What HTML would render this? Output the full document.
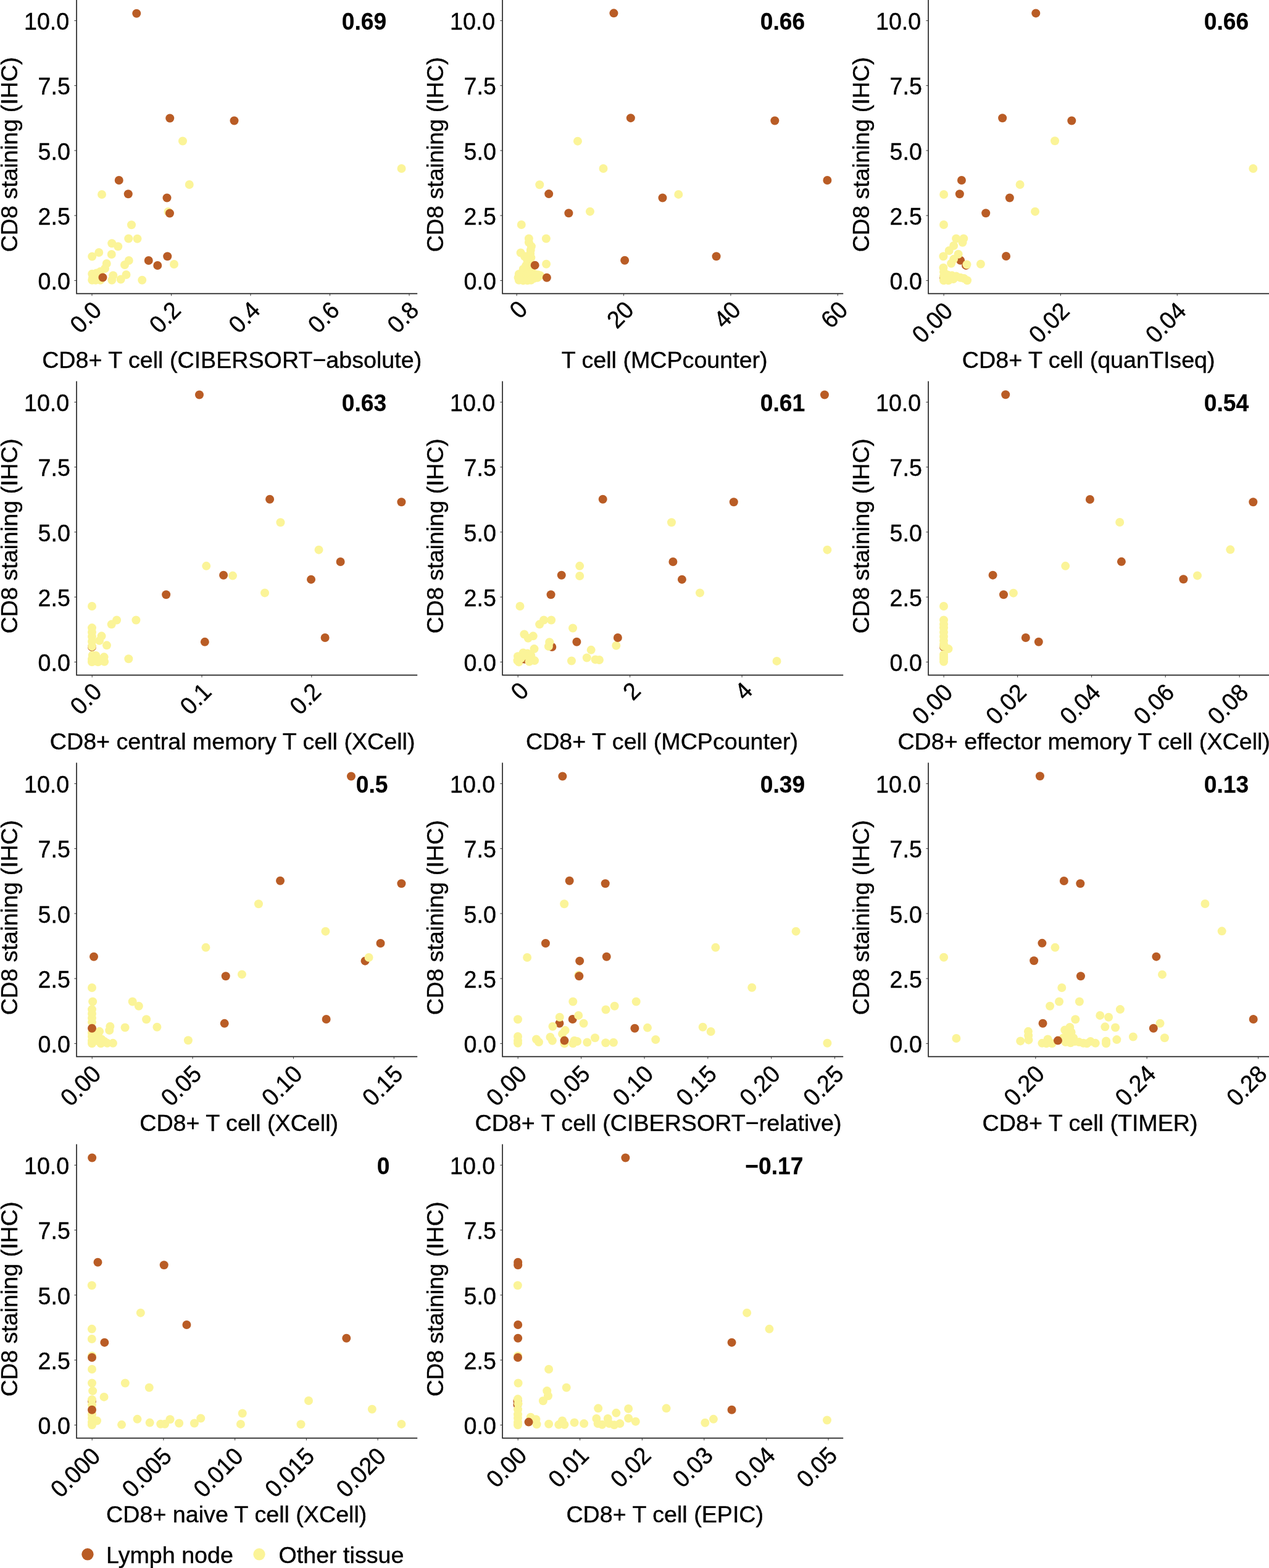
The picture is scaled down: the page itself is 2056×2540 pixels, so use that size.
<!DOCTYPE html>
<html lang="en"><head><meta charset="utf-8"><title>CD8 staining vs deconvolution estimates</title>
<style>html,body{margin:0;padding:0;background:#fff}body{width:2056px;height:2540px;overflow:hidden}svg{display:block}text{font-family:"Liberation Sans",Arial,Helvetica,sans-serif;fill:#000;stroke:#000;stroke-width:0.4px}.t{font-size:37.65px}.k{font-size:37.6px}.b{font-size:37.2px;font-weight:bold;stroke-width:0.25px}.ax{stroke:#222;stroke-width:1.65;fill:none}.tk{stroke:#333;stroke-width:1;fill:none}.br{fill:#b95c25}.ye{fill:#fbf498}</style></head><body>
<svg width="2056" height="2540" viewBox="0 0 2056 2540" role="img" aria-label="CD8 staining (IHC) versus deconvolution estimates">
<rect width="2056" height="2540" fill="#fff"/>
<g><circle class="ye" cx="296" cy="228.5" r="7"/><circle class="ye" cx="650.5" cy="273" r="7"/><circle class="ye" cx="306.75" cy="299" r="7"/><circle class="ye" cx="165" cy="315" r="7"/><circle class="ye" cx="272.5" cy="343" r="7"/><circle class="ye" cx="213" cy="364.25" r="7"/><circle class="ye" cx="208.25" cy="386.5" r="7"/><circle class="ye" cx="222.5" cy="386.75" r="7"/><circle class="ye" cx="181.25" cy="394.25" r="7"/><circle class="ye" cx="191.25" cy="399.25" r="7"/><circle class="ye" cx="160.25" cy="409" r="7"/><circle class="ye" cx="149.25" cy="415.5" r="7"/><circle class="ye" cx="180.75" cy="412" r="7"/><circle class="ye" cx="208.75" cy="422" r="7"/><circle class="ye" cx="202" cy="429" r="7"/><circle class="ye" cx="172.75" cy="427" r="7"/><circle class="ye" cx="282" cy="428" r="7"/><circle class="ye" cx="170" cy="435" r="7"/><circle class="ye" cx="204.5" cy="445" r="7"/><circle class="ye" cx="183.25" cy="446.25" r="7"/><circle class="ye" cx="230.25" cy="453.75" r="7"/><circle class="ye" cx="195.75" cy="452.5" r="7"/><circle class="ye" cx="181.25" cy="453.75" r="7"/><circle class="ye" cx="149.25" cy="443.75" r="7"/><circle class="ye" cx="156.25" cy="442.5" r="7"/><circle class="ye" cx="150" cy="450" r="7"/><circle class="ye" cx="157.5" cy="450" r="7"/><circle class="ye" cx="149.25" cy="453.75" r="7"/><circle class="ye" cx="162.5" cy="440" r="7"/><circle class="ye" cx="155" cy="453.75" r="7"/><circle class="ye" cx="162.5" cy="453.75" r="7"/><circle class="br" cx="221.25" cy="21.75" r="7"/><circle class="br" cx="275.25" cy="191.5" r="7"/><circle class="br" cx="379.5" cy="195.5" r="7"/><circle class="br" cx="192.75" cy="292" r="7"/><circle class="br" cx="207.75" cy="314.25" r="7"/><circle class="br" cx="270.5" cy="320.5" r="7"/><circle class="br" cx="275" cy="345.5" r="7"/><circle class="br" cx="271.25" cy="415.25" r="7"/><circle class="br" cx="240.75" cy="422" r="7"/><circle class="br" cx="255.25" cy="430" r="7"/><circle class="br" cx="166.5" cy="449.5" r="7"/><path class="ax" d="M124.05 -0.4 V475.6 H676.2"/><path class="tk" d="M124.05 454.4h-3.7M124.05 349.15h-3.7M124.05 243.9h-3.7M124.05 138.65h-3.7M124.05 33.4h-3.7M149 475.6v3.7M277.5 475.6v3.7M406 475.6v3.7M534.5 475.6v3.7M663 475.6v3.7"/><text class="k" text-anchor="end" transform="translate(113.82 469.1) scale(1 1.04)">0.0</text><text class="k" text-anchor="end" transform="translate(113.82 363.85) scale(1 1.04)">2.5</text><text class="k" text-anchor="end" transform="translate(113.82 258.6) scale(1 1.04)">5.0</text><text class="k" text-anchor="end" transform="translate(113.82 153.35) scale(1 1.04)">7.5</text><text class="k" text-anchor="end" transform="translate(112.19 48.1) scale(1 1.04)">10.0</text><text class="k" text-anchor="end" transform="translate(166.82 505.08) rotate(-45) scale(1 1.04)">0.0</text><text class="k" text-anchor="end" transform="translate(295.32 505.08) rotate(-45) scale(1 1.04)">0.2</text><text class="k" text-anchor="end" transform="translate(423.82 505.08) rotate(-45) scale(1 1.04)">0.4</text><text class="k" text-anchor="end" transform="translate(552.32 505.08) rotate(-45) scale(1 1.04)">0.6</text><text class="k" text-anchor="end" transform="translate(680.82 505.08) rotate(-45) scale(1 1.04)">0.8</text><text class="t" text-anchor="middle" transform="translate(27.6 250.4) rotate(-90)">CD8 staining (IHC)</text><text class="t" text-anchor="middle" x="375.71" y="596.25">CD8+ T cell (CIBERSORT−absolute)</text><text class="b" text-anchor="middle" transform="translate(590 47.5) scale(1 1.035)">0.69</text></g>
<g><circle class="ye" cx="935.97" cy="228.63" r="7"/><circle class="ye" cx="977.5" cy="272.98" r="7"/><circle class="ye" cx="874.27" cy="299.19" r="7"/><circle class="ye" cx="1099.27" cy="314.92" r="7"/><circle class="ye" cx="955.94" cy="342.67" r="7"/><circle class="ye" cx="844.77" cy="363.99" r="7"/><circle class="ye" cx="884.86" cy="386.45" r="7"/><circle class="ye" cx="856.87" cy="386.45" r="7"/><circle class="ye" cx="856.87" cy="392.79" r="7"/><circle class="ye" cx="860.9" cy="399.12" r="7"/><circle class="ye" cx="843.62" cy="409.49" r="7"/><circle class="ye" cx="859.75" cy="404.88" r="7"/><circle class="ye" cx="859.17" cy="410.65" r="7"/><circle class="ye" cx="849.95" cy="415.25" r="7"/><circle class="ye" cx="860.32" cy="417.56" r="7"/><circle class="ye" cx="854.56" cy="422.17" r="7"/><circle class="ye" cx="859.17" cy="426.77" r="7"/><circle class="ye" cx="885.09" cy="427.7" r="7"/><circle class="ye" cx="852.26" cy="430.23" r="7"/><circle class="ye" cx="847.65" cy="435.99" r="7"/><circle class="ye" cx="854.56" cy="435.99" r="7"/><circle class="ye" cx="860.32" cy="439.45" r="7"/><circle class="ye" cx="840.74" cy="444.06" r="7"/><circle class="ye" cx="846.5" cy="444.06" r="7"/><circle class="ye" cx="853.41" cy="445.21" r="7"/><circle class="ye" cx="859.17" cy="445.21" r="7"/><circle class="ye" cx="866.08" cy="444.06" r="7"/><circle class="ye" cx="871.84" cy="445.21" r="7"/><circle class="ye" cx="875.3" cy="446.36" r="7"/><circle class="ye" cx="839.59" cy="449.82" r="7"/><circle class="ye" cx="845.35" cy="450.97" r="7"/><circle class="ye" cx="851.11" cy="452.12" r="7"/><circle class="ye" cx="858.02" cy="452.12" r="7"/><circle class="ye" cx="864.93" cy="450.97" r="7"/><circle class="ye" cx="870.69" cy="449.82" r="7"/><circle class="ye" cx="840.74" cy="453.85" r="7"/><circle class="ye" cx="847.65" cy="454.42" r="7"/><circle class="ye" cx="854.56" cy="454.19" r="7"/><circle class="ye" cx="860.32" cy="453.85" r="7"/><circle class="br" cx="994.44" cy="21.37" r="7"/><circle class="br" cx="1021.85" cy="191.13" r="7"/><circle class="br" cx="1255.32" cy="195.56" r="7"/><circle class="br" cx="1340.4" cy="291.94" r="7"/><circle class="br" cx="889.19" cy="314.11" r="7"/><circle class="br" cx="1073.47" cy="320.56" r="7"/><circle class="br" cx="1160.56" cy="415.32" r="7"/><circle class="br" cx="921.38" cy="345.21" r="7"/><circle class="br" cx="866.66" cy="429.65" r="7"/><circle class="br" cx="885.9" cy="449.82" r="7"/><circle class="br" cx="1012.17" cy="421.82" r="7"/><path class="ax" d="M814.05 -0.4 V475.6 H1366.2"/><path class="tk" d="M814.05 454.4h-3.7M814.05 349.15h-3.7M814.05 243.9h-3.7M814.05 138.65h-3.7M814.05 33.4h-3.7M837.18 475.6v3.7M1010.56 475.6v3.7M1183.95 475.6v3.7M1357.34 475.6v3.7"/><text class="k" text-anchor="end" transform="translate(803.82 469.1) scale(1 1.04)">0.0</text><text class="k" text-anchor="end" transform="translate(803.82 363.85) scale(1 1.04)">2.5</text><text class="k" text-anchor="end" transform="translate(803.82 258.6) scale(1 1.04)">5.0</text><text class="k" text-anchor="end" transform="translate(803.82 153.35) scale(1 1.04)">7.5</text><text class="k" text-anchor="end" transform="translate(802.19 48.1) scale(1 1.04)">10.0</text><text class="k" text-anchor="end" transform="translate(856.73 503.35) rotate(-45) scale(1 1.04)">0</text><text class="k" text-anchor="end" transform="translate(1028.96 504.5) rotate(-45) scale(1 1.04)">20</text><text class="k" text-anchor="end" transform="translate(1202.35 504.5) rotate(-45) scale(1 1.04)">40</text><text class="k" text-anchor="end" transform="translate(1375.73 504.5) rotate(-45) scale(1 1.04)">60</text><text class="t" text-anchor="middle" transform="translate(717.6 250.4) rotate(-90)">CD8 staining (IHC)</text><text class="t" text-anchor="middle" x="1076.67" y="596.25">T cell (MCPcounter)</text><text class="b" text-anchor="middle" transform="translate(1268 47.5) scale(1 1.035)">0.66</text></g>
<g><circle class="br" cx="1556.08" cy="421.82" r="7"/><circle class="br" cx="1565.07" cy="429.88" r="7"/><circle class="br" cx="1529.01" cy="449.59" r="7"/><circle class="ye" cx="1709.04" cy="228.19" r="7"/><circle class="ye" cx="2030.3" cy="272.97" r="7"/><circle class="ye" cx="1652.58" cy="299.06" r="7"/><circle class="ye" cx="1529.14" cy="315.03" r="7"/><circle class="ye" cx="1677.05" cy="342.67" r="7"/><circle class="ye" cx="1529.01" cy="363.99" r="7"/><circle class="ye" cx="1549.17" cy="386.45" r="7"/><circle class="ye" cx="1561.27" cy="386.45" r="7"/><circle class="ye" cx="1559.54" cy="392.79" r="7"/><circle class="ye" cx="1545.14" cy="397.97" r="7"/><circle class="ye" cx="1537.65" cy="406.04" r="7"/><circle class="ye" cx="1528.43" cy="415.25" r="7"/><circle class="ye" cx="1552.63" cy="411.8" r="7"/><circle class="ye" cx="1545.14" cy="419.86" r="7"/><circle class="ye" cx="1541.11" cy="426.77" r="7"/><circle class="ye" cx="1566.45" cy="428.5" r="7"/><circle class="ye" cx="1588.92" cy="427.7" r="7"/><circle class="ye" cx="1528.43" cy="433.69" r="7"/><circle class="ye" cx="1529.01" cy="440.6" r="7"/><circle class="ye" cx="1529.01" cy="447.51" r="7"/><circle class="ye" cx="1529.01" cy="454.19" r="7"/><circle class="ye" cx="1535.35" cy="445.21" r="7"/><circle class="ye" cx="1542.26" cy="446.36" r="7"/><circle class="ye" cx="1549.17" cy="447.51" r="7"/><circle class="ye" cx="1556.08" cy="449.82" r="7"/><circle class="ye" cx="1561.84" cy="450.97" r="7"/><circle class="ye" cx="1567.03" cy="454.19" r="7"/><circle class="ye" cx="1536.5" cy="454.19" r="7"/><circle class="ye" cx="1544.56" cy="452.12" r="7"/><circle class="br" cx="1678.28" cy="21.42" r="7"/><circle class="br" cx="1624.15" cy="191.2" r="7"/><circle class="br" cx="1736.3" cy="195.48" r="7"/><circle class="br" cx="1557.96" cy="292.05" r="7"/><circle class="br" cx="1554.84" cy="314.25" r="7"/><circle class="br" cx="1635.84" cy="320.48" r="7"/><circle class="br" cx="1597.21" cy="345.21" r="7"/><circle class="br" cx="1630.05" cy="415.02" r="7"/><path class="ax" d="M1504.05 -0.4 V475.6 H2056.2"/><path class="tk" d="M1504.05 454.4h-3.7M1504.05 349.15h-3.7M1504.05 243.9h-3.7M1504.05 138.65h-3.7M1504.05 33.4h-3.7M1529.14 475.6v3.7M1718.39 475.6v3.7M1907.25 475.6v3.7"/><text class="k" text-anchor="end" transform="translate(1493.82 469.1) scale(1 1.04)">0.0</text><text class="k" text-anchor="end" transform="translate(1493.82 363.85) scale(1 1.04)">2.5</text><text class="k" text-anchor="end" transform="translate(1493.82 258.6) scale(1 1.04)">5.0</text><text class="k" text-anchor="end" transform="translate(1493.82 153.35) scale(1 1.04)">7.5</text><text class="k" text-anchor="end" transform="translate(1492.19 48.1) scale(1 1.04)">10.0</text><text class="k" text-anchor="end" transform="translate(1545.81 506.23) rotate(-45) scale(1 1.04)">0.00</text><text class="k" text-anchor="end" transform="translate(1735.06 506.23) rotate(-45) scale(1 1.04)">0.02</text><text class="k" text-anchor="end" transform="translate(1923.92 506.23) rotate(-45) scale(1 1.04)">0.04</text><text class="t" text-anchor="middle" transform="translate(1407.6 250.4) rotate(-90)">CD8 staining (IHC)</text><text class="t" text-anchor="middle" x="1763.72" y="596.25">CD8+ T cell (quanTIseq)</text><text class="b" text-anchor="middle" transform="translate(1987 47.5) scale(1 1.035)">0.66</text></g>
<g><circle class="br" cx="149.01" cy="1048" r="7"/><circle class="br" cx="149.01" cy="1067.82" r="6.2"/><circle class="ye" cx="454.44" cy="846.29" r="7"/><circle class="ye" cx="516.53" cy="890.65" r="7"/><circle class="ye" cx="334.27" cy="916.85" r="7"/><circle class="ye" cx="377.02" cy="932.58" r="7"/><circle class="ye" cx="429.03" cy="960.4" r="7"/><circle class="ye" cx="149.01" cy="981.99" r="7"/><circle class="ye" cx="189.1" cy="1004.45" r="7"/><circle class="ye" cx="180.69" cy="1011.36" r="7"/><circle class="ye" cx="220.44" cy="1004.45" r="7"/><circle class="ye" cx="149.01" cy="1017.12" r="7"/><circle class="ye" cx="149.01" cy="1024.04" r="7"/><circle class="ye" cx="149.01" cy="1030.95" r="7"/><circle class="ye" cx="164.56" cy="1030.37" r="7"/><circle class="ye" cx="161.11" cy="1037.86" r="7"/><circle class="ye" cx="149.01" cy="1039.01" r="7"/><circle class="ye" cx="172.97" cy="1045.35" r="7"/><circle class="ye" cx="149.01" cy="1046.96" r="7"/><circle class="ye" cx="149.82" cy="1061.48" r="7"/><circle class="ye" cx="155.35" cy="1062.06" r="7"/><circle class="ye" cx="168.59" cy="1064.36" r="7"/><circle class="ye" cx="149.01" cy="1067.82" r="7"/><circle class="ye" cx="156.5" cy="1068.97" r="7"/><circle class="ye" cx="164.56" cy="1070.12" r="7"/><circle class="ye" cx="169.17" cy="1071.85" r="7"/><circle class="ye" cx="149.01" cy="1072.19" r="7"/><circle class="ye" cx="208.34" cy="1067.24" r="7"/><circle class="ye" cx="158.8" cy="1072.19" r="7"/><circle class="br" cx="322.98" cy="639.44" r="7"/><circle class="br" cx="437.1" cy="808.79" r="7"/><circle class="br" cx="650.4" cy="813.23" r="7"/><circle class="br" cx="551.61" cy="910" r="7"/><circle class="br" cx="362.1" cy="931.77" r="7"/><circle class="br" cx="504.03" cy="938.63" r="7"/><circle class="br" cx="526.61" cy="1032.98" r="7"/><circle class="br" cx="331.85" cy="1039.84" r="7"/><circle class="br" cx="269.17" cy="963.21" r="7"/><path class="ax" d="M124.05 617.6 V1093.6 H676.2"/><path class="tk" d="M124.05 1072.4h-3.7M124.05 967.15h-3.7M124.05 861.9h-3.7M124.05 756.65h-3.7M124.05 651.4h-3.7M149.19 1093.6v3.7M327.02 1093.6v3.7M504.84 1093.6v3.7"/><text class="k" text-anchor="end" transform="translate(113.82 1087.1) scale(1 1.04)">0.0</text><text class="k" text-anchor="end" transform="translate(113.82 981.85) scale(1 1.04)">2.5</text><text class="k" text-anchor="end" transform="translate(113.82 876.6) scale(1 1.04)">5.0</text><text class="k" text-anchor="end" transform="translate(113.82 771.35) scale(1 1.04)">7.5</text><text class="k" text-anchor="end" transform="translate(112.19 666.1) scale(1 1.04)">10.0</text><text class="k" text-anchor="end" transform="translate(167.01 1123.08) rotate(-45) scale(1 1.04)">0.0</text><text class="k" text-anchor="end" transform="translate(344.84 1123.08) rotate(-45) scale(1 1.04)">0.1</text><text class="k" text-anchor="end" transform="translate(522.66 1123.08) rotate(-45) scale(1 1.04)">0.2</text><text class="t" text-anchor="middle" transform="translate(27.6 868.4) rotate(-90)">CD8 staining (IHC)</text><text class="t" text-anchor="middle" x="376.62" y="1213.7">CD8+ central memory T cell (XCell)</text><text class="b" text-anchor="middle" transform="translate(590 665.5) scale(1 1.035)">0.63</text></g>
<g><circle class="ye" cx="998.34" cy="1045.7" r="7"/><circle class="ye" cx="839.01" cy="1063.21" r="7"/><circle class="ye" cx="838.43" cy="1070.12" r="7"/><circle class="ye" cx="840.74" cy="1072.42" r="7"/><circle class="br" cx="894.31" cy="1048" r="7"/><circle class="br" cx="850.18" cy="1067.82" r="7"/><circle class="ye" cx="1087.98" cy="846.29" r="7"/><circle class="ye" cx="1340.4" cy="890.65" r="7"/><circle class="ye" cx="939.19" cy="916.85" r="7"/><circle class="ye" cx="939.19" cy="932.98" r="7"/><circle class="ye" cx="1133.95" cy="960.4" r="7"/><circle class="ye" cx="1258.55" cy="1070.89" r="7"/><circle class="ye" cx="842.47" cy="981.99" r="7"/><circle class="ye" cx="881.06" cy="1004.45" r="7"/><circle class="ye" cx="893.16" cy="1004.45" r="7"/><circle class="ye" cx="874.15" cy="1011.36" r="7"/><circle class="ye" cx="928.06" cy="1017.47" r="7"/><circle class="ye" cx="849.38" cy="1027.49" r="7"/><circle class="ye" cx="863.78" cy="1030.37" r="7"/><circle class="ye" cx="855.71" cy="1033.83" r="7"/><circle class="ye" cx="890.28" cy="1040.17" r="7"/><circle class="ye" cx="888.89" cy="1047.08" r="7"/><circle class="ye" cx="957.67" cy="1052.84" r="7"/><circle class="ye" cx="865.51" cy="1051.11" r="7"/><circle class="ye" cx="847.65" cy="1057.45" r="7"/><circle class="ye" cx="854.56" cy="1058.6" r="7"/><circle class="ye" cx="843.96" cy="1066.66" r="7"/><circle class="ye" cx="860.32" cy="1062.06" r="7"/><circle class="ye" cx="866.08" cy="1070.12" r="7"/><circle class="ye" cx="857.44" cy="1071.85" r="7"/><circle class="ye" cx="849.38" cy="1062.06" r="7"/><circle class="ye" cx="925.99" cy="1070.47" r="7"/><circle class="ye" cx="950.76" cy="1065.51" r="7"/><circle class="ye" cx="964.59" cy="1068.39" r="7"/><circle class="ye" cx="970.92" cy="1068.97" r="7"/><circle class="br" cx="1335.97" cy="639.44" r="7"/><circle class="br" cx="976.69" cy="808.79" r="7"/><circle class="br" cx="1188.79" cy="813.23" r="7"/><circle class="br" cx="1090.4" cy="910" r="7"/><circle class="br" cx="909.76" cy="931.77" r="7"/><circle class="br" cx="1104.92" cy="938.63" r="7"/><circle class="br" cx="892.58" cy="963.21" r="7"/><circle class="br" cx="934.4" cy="1039.82" r="7"/><circle class="br" cx="1000.88" cy="1033.02" r="7"/><path class="ax" d="M814.05 617.6 V1093.6 H1366.2"/><path class="tk" d="M814.05 1072.4h-3.7M814.05 967.15h-3.7M814.05 861.9h-3.7M814.05 756.65h-3.7M814.05 651.4h-3.7M839.19 1093.6v3.7M1020.65 1093.6v3.7M1202.1 1093.6v3.7"/><text class="k" text-anchor="end" transform="translate(803.82 1087.1) scale(1 1.04)">0.0</text><text class="k" text-anchor="end" transform="translate(803.82 981.85) scale(1 1.04)">2.5</text><text class="k" text-anchor="end" transform="translate(803.82 876.6) scale(1 1.04)">5.0</text><text class="k" text-anchor="end" transform="translate(803.82 771.35) scale(1 1.04)">7.5</text><text class="k" text-anchor="end" transform="translate(802.19 666.1) scale(1 1.04)">10.0</text><text class="k" text-anchor="end" transform="translate(858.74 1121.35) rotate(-45) scale(1 1.04)">0</text><text class="k" text-anchor="end" transform="translate(1040.19 1121.35) rotate(-45) scale(1 1.04)">2</text><text class="k" text-anchor="end" transform="translate(1221.64 1121.35) rotate(-45) scale(1 1.04)">4</text><text class="t" text-anchor="middle" transform="translate(717.6 868.4) rotate(-90)">CD8 staining (IHC)</text><text class="t" text-anchor="middle" x="1072.5" y="1213.7">CD8+ T cell (MCPcounter)</text><text class="b" text-anchor="middle" transform="translate(1268 665.5) scale(1 1.035)">0.61</text></g>
<g><circle class="br" cx="1529.01" cy="1048" r="7"/><circle class="br" cx="1529.01" cy="1067.82" r="6.2"/><circle class="ye" cx="1814.18" cy="845.98" r="7"/><circle class="ye" cx="1993.31" cy="890.37" r="7"/><circle class="ye" cx="1726.18" cy="916.85" r="7"/><circle class="ye" cx="1939.96" cy="932.42" r="7"/><circle class="ye" cx="1641.91" cy="960.67" r="7"/><circle class="ye" cx="1529.01" cy="981.99" r="7"/><circle class="ye" cx="1529.01" cy="1004.45" r="7"/><circle class="ye" cx="1529.01" cy="1011.36" r="7"/><circle class="ye" cx="1529.01" cy="1017.12" r="7"/><circle class="ye" cx="1529.01" cy="1024.04" r="7"/><circle class="ye" cx="1529.01" cy="1030.95" r="7"/><circle class="ye" cx="1529.01" cy="1037.86" r="7"/><circle class="ye" cx="1529.01" cy="1043.62" r="7"/><circle class="ye" cx="1529.01" cy="1046.85" r="7"/><circle class="ye" cx="1536.5" cy="1051.11" r="7"/><circle class="ye" cx="1529.01" cy="1060.44" r="7"/><circle class="ye" cx="1529.01" cy="1064.36" r="7"/><circle class="ye" cx="1529.01" cy="1067.82" r="7"/><circle class="ye" cx="1529.01" cy="1071.85" r="7"/><circle class="br" cx="1629.22" cy="639.21" r="7"/><circle class="br" cx="1765.9" cy="808.98" r="7"/><circle class="br" cx="2030.3" cy="813.27" r="7"/><circle class="br" cx="1816.91" cy="909.84" r="7"/><circle class="br" cx="1608.58" cy="931.65" r="7"/><circle class="br" cx="1917.37" cy="938.26" r="7"/><circle class="br" cx="1626.01" cy="963.21" r="7"/><circle class="br" cx="1661.84" cy="1033.02" r="7"/><circle class="br" cx="1682.81" cy="1039.82" r="7"/><path class="ax" d="M1504.05 617.6 V1093.6 H2056.2"/><path class="tk" d="M1504.05 1072.4h-3.7M1504.05 967.15h-3.7M1504.05 861.9h-3.7M1504.05 756.65h-3.7M1504.05 651.4h-3.7M1529.14 1093.6v3.7M1648.69 1093.6v3.7M1768.62 1093.6v3.7M1888.17 1093.6v3.7M2008.1 1093.6v3.7"/><text class="k" text-anchor="end" transform="translate(1493.82 1087.1) scale(1 1.04)">0.0</text><text class="k" text-anchor="end" transform="translate(1493.82 981.85) scale(1 1.04)">2.5</text><text class="k" text-anchor="end" transform="translate(1493.82 876.6) scale(1 1.04)">5.0</text><text class="k" text-anchor="end" transform="translate(1493.82 771.35) scale(1 1.04)">7.5</text><text class="k" text-anchor="end" transform="translate(1492.19 666.1) scale(1 1.04)">10.0</text><text class="k" text-anchor="end" transform="translate(1545.81 1124.23) rotate(-45) scale(1 1.04)">0.00</text><text class="k" text-anchor="end" transform="translate(1665.35 1124.23) rotate(-45) scale(1 1.04)">0.02</text><text class="k" text-anchor="end" transform="translate(1785.29 1124.23) rotate(-45) scale(1 1.04)">0.04</text><text class="k" text-anchor="end" transform="translate(1904.84 1124.23) rotate(-45) scale(1 1.04)">0.06</text><text class="k" text-anchor="end" transform="translate(2024.77 1124.23) rotate(-45) scale(1 1.04)">0.08</text><text class="t" text-anchor="middle" transform="translate(1407.6 868.4) rotate(-90)">CD8 staining (IHC)</text><text class="t" text-anchor="middle" x="1756.16" y="1213.7">CD8+ effector memory T cell (XCell)</text><text class="b" text-anchor="middle" transform="translate(1987 665.5) scale(1 1.035)">0.54</text></g>
<g><circle class="br" cx="591.53" cy="1556.63" r="7"/><circle class="br" cx="149.01" cy="1685.82" r="6.2"/><circle class="ye" cx="418.95" cy="1464.29" r="7"/><circle class="ye" cx="527.42" cy="1508.65" r="7"/><circle class="ye" cx="333.47" cy="1534.85" r="7"/><circle class="ye" cx="597.58" cy="1550.98" r="7"/><circle class="ye" cx="391.94" cy="1578.4" r="7"/><circle class="ye" cx="149.01" cy="1599.99" r="7"/><circle class="ye" cx="150.16" cy="1622.45" r="7"/><circle class="ye" cx="214.68" cy="1622.45" r="7"/><circle class="ye" cx="224.82" cy="1629.71" r="7"/><circle class="ye" cx="149.01" cy="1635.12" r="7"/><circle class="ye" cx="149.01" cy="1642.04" r="7"/><circle class="ye" cx="149.01" cy="1648.95" r="7"/><circle class="ye" cx="149.01" cy="1655.86" r="7"/><circle class="ye" cx="237.14" cy="1651.25" r="7"/><circle class="ye" cx="254.42" cy="1663.7" r="7"/><circle class="ye" cx="202.58" cy="1664.5" r="7"/><circle class="ye" cx="178.39" cy="1662.77" r="7"/><circle class="ye" cx="177.24" cy="1669.11" r="7"/><circle class="ye" cx="161.11" cy="1670.84" r="7"/><circle class="ye" cx="158.8" cy="1676.6" r="7"/><circle class="ye" cx="149.01" cy="1673.14" r="7"/><circle class="ye" cx="149.01" cy="1678.9" r="7"/><circle class="ye" cx="149.01" cy="1685.82" r="7"/><circle class="ye" cx="149.01" cy="1690.19" r="7"/><circle class="ye" cx="156.5" cy="1685.82" r="7"/><circle class="ye" cx="164.56" cy="1683.51" r="7"/><circle class="ye" cx="169.17" cy="1686.97" r="7"/><circle class="ye" cx="163.41" cy="1690.19" r="7"/><circle class="ye" cx="173.78" cy="1689.85" r="7"/><circle class="ye" cx="183" cy="1689.85" r="7"/><circle class="ye" cx="304.88" cy="1685.24" r="7"/><circle class="br" cx="568.95" cy="1257.44" r="7"/><circle class="br" cx="454.03" cy="1426.79" r="7"/><circle class="br" cx="650.4" cy="1431.23" r="7"/><circle class="br" cx="616.53" cy="1528" r="7"/><circle class="br" cx="152.02" cy="1549.77" r="7"/><circle class="br" cx="365.73" cy="1581.23" r="7"/><circle class="br" cx="528.63" cy="1650.98" r="7"/><circle class="br" cx="363.71" cy="1657.84" r="7"/><circle class="br" cx="149.01" cy="1665.77" r="7"/><path class="ax" d="M124.05 1235.6 V1711.6 H676.2"/><path class="tk" d="M124.05 1690.4h-3.7M124.05 1585.15h-3.7M124.05 1479.9h-3.7M124.05 1374.65h-3.7M124.05 1269.4h-3.7M149.19 1711.6v3.7M312.1 1711.6v3.7M475.4 1711.6v3.7M638.31 1711.6v3.7"/><text class="k" text-anchor="end" transform="translate(113.82 1705.1) scale(1 1.04)">0.0</text><text class="k" text-anchor="end" transform="translate(113.82 1599.85) scale(1 1.04)">2.5</text><text class="k" text-anchor="end" transform="translate(113.82 1494.6) scale(1 1.04)">5.0</text><text class="k" text-anchor="end" transform="translate(113.82 1389.35) scale(1 1.04)">7.5</text><text class="k" text-anchor="end" transform="translate(112.19 1284.1) scale(1 1.04)">10.0</text><text class="k" text-anchor="end" transform="translate(165.86 1742.23) rotate(-45) scale(1 1.04)">0.00</text><text class="k" text-anchor="end" transform="translate(328.76 1742.23) rotate(-45) scale(1 1.04)">0.05</text><text class="k" text-anchor="end" transform="translate(492.07 1742.23) rotate(-45) scale(1 1.04)">0.10</text><text class="k" text-anchor="end" transform="translate(654.97 1742.23) rotate(-45) scale(1 1.04)">0.15</text><text class="t" text-anchor="middle" transform="translate(27.6 1486.4) rotate(-90)">CD8 staining (IHC)</text><text class="t" text-anchor="middle" x="387.15" y="1832.3">CD8+ T cell (XCell)</text><text class="b" text-anchor="middle" transform="translate(602.6 1283.5) scale(1 1.035)">0.5</text></g>
<g><circle class="br" cx="927.72" cy="1651.02" r="7"/><circle class="br" cx="906.41" cy="1657.82" r="7"/><circle class="ye" cx="914.19" cy="1464.29" r="7"/><circle class="ye" cx="1289.6" cy="1508.65" r="7"/><circle class="ye" cx="1159.35" cy="1534.85" r="7"/><circle class="ye" cx="854.11" cy="1550.98" r="7"/><circle class="ye" cx="1218.23" cy="1599.77" r="7"/><circle class="ye" cx="1340.4" cy="1689.69" r="7"/><circle class="ye" cx="937.4" cy="1579.59" r="7"/><circle class="ye" cx="928.29" cy="1622.45" r="7"/><circle class="ye" cx="995.69" cy="1629.71" r="7"/><circle class="ye" cx="981.52" cy="1635.47" r="7"/><circle class="ye" cx="839.01" cy="1651.25" r="7"/><circle class="ye" cx="906.75" cy="1647.8" r="7"/><circle class="ye" cx="937.17" cy="1644.92" r="7"/><circle class="ye" cx="945.58" cy="1657.82" r="7"/><circle class="ye" cx="895.46" cy="1662.77" r="7"/><circle class="ye" cx="915.62" cy="1669.11" r="7"/><circle class="ye" cx="911.01" cy="1674.87" r="7"/><circle class="ye" cx="839.01" cy="1678.9" r="7"/><circle class="ye" cx="839.01" cy="1685.82" r="7"/><circle class="ye" cx="839.01" cy="1689.85" r="7"/><circle class="ye" cx="868.96" cy="1683.51" r="7"/><circle class="ye" cx="873" cy="1688.12" r="7"/><circle class="ye" cx="891.43" cy="1680.06" r="7"/><circle class="ye" cx="894.88" cy="1685.82" r="7"/><circle class="ye" cx="914.47" cy="1690.42" r="7"/><circle class="ye" cx="930.6" cy="1685.82" r="7"/><circle class="ye" cx="935.21" cy="1686.97" r="7"/><circle class="ye" cx="928.29" cy="1690.19" r="7"/><circle class="ye" cx="951.34" cy="1688.47" r="7"/><circle class="ye" cx="964.01" cy="1681.21" r="7"/><circle class="ye" cx="981.29" cy="1689.27" r="7"/><circle class="ye" cx="993.96" cy="1688.7" r="7"/><circle class="ye" cx="1030.71" cy="1622.45" r="7"/><circle class="ye" cx="1049.03" cy="1664.85" r="7"/><circle class="ye" cx="1062.28" cy="1684.09" r="7"/><circle class="ye" cx="1138.66" cy="1663.7" r="7"/><circle class="ye" cx="1151.68" cy="1671.07" r="7"/><circle class="br" cx="911.37" cy="1257.44" r="7"/><circle class="br" cx="922.66" cy="1426.79" r="7"/><circle class="br" cx="980.73" cy="1431.23" r="7"/><circle class="br" cx="883.95" cy="1528" r="7"/><circle class="br" cx="982.74" cy="1549.77" r="7"/><circle class="br" cx="939.19" cy="1556.63" r="7"/><circle class="br" cx="938.32" cy="1581.21" r="7"/><circle class="br" cx="914.47" cy="1685.59" r="7"/><circle class="br" cx="1028.41" cy="1665.77" r="7"/><path class="ax" d="M814.05 1235.6 V1711.6 H1366.2"/><path class="tk" d="M814.05 1690.4h-3.7M814.05 1585.15h-3.7M814.05 1479.9h-3.7M814.05 1374.65h-3.7M814.05 1269.4h-3.7M839.19 1711.6v3.7M941.61 1711.6v3.7M1044.03 1711.6v3.7M1146.85 1711.6v3.7M1249.68 1711.6v3.7M1352.5 1711.6v3.7"/><text class="k" text-anchor="end" transform="translate(803.82 1705.1) scale(1 1.04)">0.0</text><text class="k" text-anchor="end" transform="translate(803.82 1599.85) scale(1 1.04)">2.5</text><text class="k" text-anchor="end" transform="translate(803.82 1494.6) scale(1 1.04)">5.0</text><text class="k" text-anchor="end" transform="translate(803.82 1389.35) scale(1 1.04)">7.5</text><text class="k" text-anchor="end" transform="translate(802.19 1284.1) scale(1 1.04)">10.0</text><text class="k" text-anchor="end" transform="translate(855.86 1742.23) rotate(-45) scale(1 1.04)">0.00</text><text class="k" text-anchor="end" transform="translate(958.28 1742.23) rotate(-45) scale(1 1.04)">0.05</text><text class="k" text-anchor="end" transform="translate(1060.7 1742.23) rotate(-45) scale(1 1.04)">0.10</text><text class="k" text-anchor="end" transform="translate(1163.52 1742.23) rotate(-45) scale(1 1.04)">0.15</text><text class="k" text-anchor="end" transform="translate(1266.34 1742.23) rotate(-45) scale(1 1.04)">0.20</text><text class="k" text-anchor="end" transform="translate(1369.17 1742.23) rotate(-45) scale(1 1.04)">0.25</text><text class="t" text-anchor="middle" transform="translate(717.6 1486.4) rotate(-90)">CD8 staining (IHC)</text><text class="t" text-anchor="middle" x="1066.53" y="1832.3">CD8+ T cell (CIBERSORT−relative)</text><text class="b" text-anchor="middle" transform="translate(1268 1283.5) scale(1 1.035)">0.39</text></g>
<g><circle class="ye" cx="1952.42" cy="1463.98" r="7"/><circle class="ye" cx="1979.68" cy="1508.37" r="7"/><circle class="ye" cx="1709.43" cy="1534.85" r="7"/><circle class="ye" cx="1529.14" cy="1550.81" r="7"/><circle class="ye" cx="1549.39" cy="1682.04" r="7"/><circle class="ye" cx="1720.3" cy="1599.99" r="7"/><circle class="ye" cx="1716.04" cy="1622.45" r="7"/><circle class="ye" cx="1748.87" cy="1622.45" r="7"/><circle class="ye" cx="1701.06" cy="1629.71" r="7"/><circle class="ye" cx="1814.88" cy="1635.12" r="7"/><circle class="ye" cx="1782.28" cy="1644.92" r="7"/><circle class="ye" cx="1796.11" cy="1647.8" r="7"/><circle class="ye" cx="1742.3" cy="1651.25" r="7"/><circle class="ye" cx="1790.35" cy="1663.35" r="7"/><circle class="ye" cx="1807.05" cy="1664.5" r="7"/><circle class="ye" cx="1733.32" cy="1663.93" r="7"/><circle class="ye" cx="1665.92" cy="1670.84" r="7"/><circle class="ye" cx="1666.15" cy="1677.52" r="7"/><circle class="ye" cx="1725.25" cy="1668.53" r="7"/><circle class="ye" cx="1735.62" cy="1671.99" r="7"/><circle class="ye" cx="1666.5" cy="1684.66" r="7"/><circle class="ye" cx="1653.25" cy="1686.39" r="7"/><circle class="ye" cx="1697.6" cy="1683.51" r="7"/><circle class="ye" cx="1688.39" cy="1689.85" r="7"/><circle class="ye" cx="1695.3" cy="1690.19" r="7"/><circle class="ye" cx="1704.52" cy="1690.19" r="7"/><circle class="ye" cx="1722.95" cy="1681.21" r="7"/><circle class="ye" cx="1731.01" cy="1678.9" r="7"/><circle class="ye" cx="1739.08" cy="1681.21" r="7"/><circle class="ye" cx="1726.41" cy="1688.12" r="7"/><circle class="ye" cx="1734.47" cy="1689.27" r="7"/><circle class="ye" cx="1741.38" cy="1686.97" r="7"/><circle class="ye" cx="1748.29" cy="1688.12" r="7"/><circle class="ye" cx="1755.21" cy="1689.85" r="7"/><circle class="ye" cx="1760.97" cy="1690.19" r="7"/><circle class="ye" cx="1766.73" cy="1686.97" r="7"/><circle class="ye" cx="1774.79" cy="1689.85" r="7"/><circle class="ye" cx="1792.07" cy="1686.39" r="7"/><circle class="ye" cx="1792.07" cy="1690.19" r="7"/><circle class="ye" cx="1809.35" cy="1684.09" r="7"/><circle class="ye" cx="1835.85" cy="1679.48" r="7"/><circle class="ye" cx="1882.97" cy="1578.67" r="7"/><circle class="ye" cx="1879.52" cy="1657.82" r="7"/><circle class="ye" cx="1886.89" cy="1681.21" r="7"/><circle class="br" cx="1684.9" cy="1257.21" r="7"/><circle class="br" cx="1723.84" cy="1426.98" r="7"/><circle class="br" cx="1750.32" cy="1431.27" r="7"/><circle class="br" cx="1688.41" cy="1527.84" r="7"/><circle class="br" cx="1873.37" cy="1549.65" r="7"/><circle class="br" cx="1675.17" cy="1556.26" r="7"/><circle class="br" cx="1750.94" cy="1581.21" r="7"/><circle class="br" cx="1689.54" cy="1657.82" r="7"/><circle class="br" cx="1713.96" cy="1685.59" r="7"/><circle class="br" cx="1868.8" cy="1665.77" r="7"/><circle class="br" cx="2030.67" cy="1651.02" r="7"/><path class="ax" d="M1504.05 1235.6 V1711.6 H2056.2"/><path class="tk" d="M1504.05 1690.4h-3.7M1504.05 1585.15h-3.7M1504.05 1479.9h-3.7M1504.05 1374.65h-3.7M1504.05 1269.4h-3.7M1677.89 1711.6v3.7M1858.18 1711.6v3.7M2038.48 1711.6v3.7"/><text class="k" text-anchor="end" transform="translate(1493.82 1705.1) scale(1 1.04)">0.0</text><text class="k" text-anchor="end" transform="translate(1493.82 1599.85) scale(1 1.04)">2.5</text><text class="k" text-anchor="end" transform="translate(1493.82 1494.6) scale(1 1.04)">5.0</text><text class="k" text-anchor="end" transform="translate(1493.82 1389.35) scale(1 1.04)">7.5</text><text class="k" text-anchor="end" transform="translate(1492.19 1284.1) scale(1 1.04)">10.0</text><text class="k" text-anchor="end" transform="translate(1694.56 1742.23) rotate(-45) scale(1 1.04)">0.20</text><text class="k" text-anchor="end" transform="translate(1874.85 1742.23) rotate(-45) scale(1 1.04)">0.24</text><text class="k" text-anchor="end" transform="translate(2055.14 1742.23) rotate(-45) scale(1 1.04)">0.28</text><text class="t" text-anchor="middle" transform="translate(1407.6 1486.4) rotate(-90)">CD8 staining (IHC)</text><text class="t" text-anchor="middle" x="1766.09" y="1832.3">CD8+ T cell (TIMER)</text><text class="b" text-anchor="middle" transform="translate(1987 1283.5) scale(1 1.035)">0.13</text></g>
<g><circle class="br" cx="149.01" cy="2269.48" r="7"/><circle class="br" cx="149.01" cy="2275.82" r="6.2"/><circle class="br" cx="149.01" cy="2303.82" r="6.2"/><circle class="ye" cx="148.79" cy="2082.29" r="7"/><circle class="ye" cx="227.82" cy="2126.65" r="7"/><circle class="ye" cx="148.79" cy="2152.85" r="7"/><circle class="ye" cx="148.79" cy="2168.98" r="7"/><circle class="ye" cx="500" cy="2268.98" r="7"/><circle class="ye" cx="602.82" cy="2282.69" r="7"/><circle class="ye" cx="392.74" cy="2289.55" r="7"/><circle class="ye" cx="389.92" cy="2306.89" r="7"/><circle class="ye" cx="487.5" cy="2307.29" r="7"/><circle class="ye" cx="650.4" cy="2306.89" r="7"/><circle class="ye" cx="149.01" cy="2196.56" r="7"/><circle class="ye" cx="149.01" cy="2217.99" r="7"/><circle class="ye" cx="149.01" cy="2240.45" r="7"/><circle class="ye" cx="202.81" cy="2240.45" r="7"/><circle class="ye" cx="241.75" cy="2247.71" r="7"/><circle class="ye" cx="150.16" cy="2253.12" r="7"/><circle class="ye" cx="168.59" cy="2262.92" r="7"/><circle class="ye" cx="149.01" cy="2267.18" r="7"/><circle class="ye" cx="149.01" cy="2275.82" r="7"/><circle class="ye" cx="149.01" cy="2291.14" r="7"/><circle class="ye" cx="149.01" cy="2296.9" r="7"/><circle class="ye" cx="157.07" cy="2301.51" r="7"/><circle class="ye" cx="149.01" cy="2303.82" r="7"/><circle class="ye" cx="149.01" cy="2308.19" r="7"/><circle class="ye" cx="197.05" cy="2307.85" r="7"/><circle class="ye" cx="222.51" cy="2298.86" r="7"/><circle class="ye" cx="242.67" cy="2304.62" r="7"/><circle class="ye" cx="260.18" cy="2306.7" r="7"/><circle class="ye" cx="267.1" cy="2306.7" r="7"/><circle class="ye" cx="275.51" cy="2299.21" r="7"/><circle class="ye" cx="290.14" cy="2305.54" r="7"/><circle class="ye" cx="314.91" cy="2305.54" r="7"/><circle class="ye" cx="325.28" cy="2297.48" r="7"/><circle class="br" cx="149.19" cy="1875.44" r="7"/><circle class="br" cx="158.47" cy="2044.79" r="7"/><circle class="br" cx="265.73" cy="2049.23" r="7"/><circle class="br" cx="302.42" cy="2146" r="7"/><circle class="br" cx="561.29" cy="2167.77" r="7"/><circle class="br" cx="169.35" cy="2174.63" r="7"/><circle class="br" cx="149.01" cy="2198.98" r="7"/><circle class="br" cx="149.01" cy="2283.77" r="7"/><path class="ax" d="M124.05 1853.6 V2329.6 H676.2"/><path class="tk" d="M124.05 2308.4h-3.7M124.05 2203.15h-3.7M124.05 2097.9h-3.7M124.05 1992.65h-3.7M124.05 1887.4h-3.7M149.19 2329.6v3.7M264.92 2329.6v3.7M380.65 2329.6v3.7M496.37 2329.6v3.7M612.1 2329.6v3.7"/><text class="k" text-anchor="end" transform="translate(113.82 2323.1) scale(1 1.04)">0.0</text><text class="k" text-anchor="end" transform="translate(113.82 2217.85) scale(1 1.04)">2.5</text><text class="k" text-anchor="end" transform="translate(113.82 2112.6) scale(1 1.04)">5.0</text><text class="k" text-anchor="end" transform="translate(113.82 2007.35) scale(1 1.04)">7.5</text><text class="k" text-anchor="end" transform="translate(112.19 1902.1) scale(1 1.04)">10.0</text><text class="k" text-anchor="end" transform="translate(164.71 2361.38) rotate(-45) scale(1 1.04)">0.000</text><text class="k" text-anchor="end" transform="translate(280.43 2361.38) rotate(-45) scale(1 1.04)">0.005</text><text class="k" text-anchor="end" transform="translate(396.16 2361.38) rotate(-45) scale(1 1.04)">0.010</text><text class="k" text-anchor="end" transform="translate(511.89 2361.38) rotate(-45) scale(1 1.04)">0.015</text><text class="k" text-anchor="end" transform="translate(627.61 2361.38) rotate(-45) scale(1 1.04)">0.020</text><text class="t" text-anchor="middle" transform="translate(27.6 2104.4) rotate(-90)">CD8 staining (IHC)</text><text class="t" text-anchor="middle" x="383.23" y="2465.6">CD8+ naive T cell (XCell)</text><text class="b" text-anchor="middle" transform="translate(621 1901.5) scale(1 1.035)">0</text></g>
<g><circle class="br" cx="838.43" cy="2269.48" r="7"/><circle class="br" cx="838.43" cy="2275.82" r="7"/><circle class="ye" cx="838.79" cy="2082.29" r="7"/><circle class="ye" cx="1210.16" cy="2126.65" r="7"/><circle class="ye" cx="1246.45" cy="2152.85" r="7"/><circle class="ye" cx="1340" cy="2300.44" r="7"/><circle class="ye" cx="839.01" cy="2196.56" r="7"/><circle class="ye" cx="889.12" cy="2217.99" r="7"/><circle class="ye" cx="839.59" cy="2240.45" r="7"/><circle class="ye" cx="917.7" cy="2247.71" r="7"/><circle class="ye" cx="886.24" cy="2253.12" r="7"/><circle class="ye" cx="887.97" cy="2261.19" r="7"/><circle class="ye" cx="879.91" cy="2269.25" r="7"/><circle class="ye" cx="839.01" cy="2266.37" r="7"/><circle class="ye" cx="839.59" cy="2273.86" r="7"/><circle class="ye" cx="839.01" cy="2283.08" r="7"/><circle class="ye" cx="839.01" cy="2291.14" r="7"/><circle class="ye" cx="839.01" cy="2296.9" r="7"/><circle class="ye" cx="839.01" cy="2303.82" r="7"/><circle class="ye" cx="839.01" cy="2308.19" r="7"/><circle class="ye" cx="859.75" cy="2295.75" r="7"/><circle class="ye" cx="868.39" cy="2299.21" r="7"/><circle class="ye" cx="869.54" cy="2307.27" r="7"/><circle class="ye" cx="889.12" cy="2306.7" r="7"/><circle class="ye" cx="911.01" cy="2301.51" r="7"/><circle class="ye" cx="905.25" cy="2307.85" r="7"/><circle class="ye" cx="914.47" cy="2307.85" r="7"/><circle class="ye" cx="930.6" cy="2304.39" r="7"/><circle class="ye" cx="946.15" cy="2306.12" r="7"/><circle class="ye" cx="969.19" cy="2281.35" r="7"/><circle class="ye" cx="966.31" cy="2298.06" r="7"/><circle class="ye" cx="968.62" cy="2306.12" r="7"/><circle class="ye" cx="975.53" cy="2307.85" r="7"/><circle class="ye" cx="984.75" cy="2298.06" r="7"/><circle class="ye" cx="987.05" cy="2306.12" r="7"/><circle class="ye" cx="998.34" cy="2288.84" r="7"/><circle class="ye" cx="995.12" cy="2308.19" r="7"/><circle class="ye" cx="1004.33" cy="2306.12" r="7"/><circle class="ye" cx="1018.16" cy="2281.93" r="7"/><circle class="ye" cx="1018.16" cy="2297.48" r="7"/><circle class="ye" cx="1029.79" cy="2302.66" r="7"/><circle class="ye" cx="1079.56" cy="2281.35" r="7"/><circle class="ye" cx="1142.35" cy="2304.74" r="7"/><circle class="ye" cx="1155.94" cy="2298.86" r="7"/><circle class="br" cx="1013.39" cy="1875.44" r="7"/><circle class="br" cx="839.19" cy="2044.79" r="7"/><circle class="br" cx="839.19" cy="2049.23" r="7"/><circle class="br" cx="839.19" cy="2146" r="7"/><circle class="br" cx="839.19" cy="2167.77" r="7"/><circle class="br" cx="1185.56" cy="2174.63" r="7"/><circle class="br" cx="839.01" cy="2198.98" r="7"/><circle class="br" cx="856.52" cy="2303.59" r="7"/><circle class="br" cx="1185.55" cy="2283.77" r="7"/><path class="ax" d="M814.05 1853.6 V2329.6 H1366.2"/><path class="tk" d="M814.05 2308.4h-3.7M814.05 2203.15h-3.7M814.05 2097.9h-3.7M814.05 1992.65h-3.7M814.05 1887.4h-3.7M839.19 2329.6v3.7M939.6 2329.6v3.7M1040.4 2329.6v3.7M1140.81 2329.6v3.7M1241.61 2329.6v3.7M1342.02 2329.6v3.7"/><text class="k" text-anchor="end" transform="translate(803.82 2323.1) scale(1 1.04)">0.0</text><text class="k" text-anchor="end" transform="translate(803.82 2217.85) scale(1 1.04)">2.5</text><text class="k" text-anchor="end" transform="translate(803.82 2112.6) scale(1 1.04)">5.0</text><text class="k" text-anchor="end" transform="translate(803.82 2007.35) scale(1 1.04)">7.5</text><text class="k" text-anchor="end" transform="translate(802.19 1902.1) scale(1 1.04)">10.0</text><text class="k" text-anchor="end" transform="translate(855.86 2360.23) rotate(-45) scale(1 1.04)">0.00</text><text class="k" text-anchor="end" transform="translate(956.26 2360.23) rotate(-45) scale(1 1.04)">0.01</text><text class="k" text-anchor="end" transform="translate(1057.07 2360.23) rotate(-45) scale(1 1.04)">0.02</text><text class="k" text-anchor="end" transform="translate(1157.47 2360.23) rotate(-45) scale(1 1.04)">0.03</text><text class="k" text-anchor="end" transform="translate(1258.28 2360.23) rotate(-45) scale(1 1.04)">0.04</text><text class="k" text-anchor="end" transform="translate(1358.68 2360.23) rotate(-45) scale(1 1.04)">0.05</text><text class="t" text-anchor="middle" transform="translate(717.6 2104.4) rotate(-90)">CD8 staining (IHC)</text><text class="t" text-anchor="middle" x="1077.23" y="2465.6">CD8+ T cell (EPIC)</text><text class="b" text-anchor="middle" transform="translate(1254.3 1901.5) scale(1 1.035)">−0.17</text></g>
<g><circle class="br" cx="141.95" cy="2517.8" r="9.7"/><text class="t" x="172.1" y="2531.6">Lymph node</text><circle class="ye" cx="420" cy="2517.8" r="9.7"/><text class="t" x="451.5" y="2531.6">Other tissue</text></g>
</svg></body></html>
